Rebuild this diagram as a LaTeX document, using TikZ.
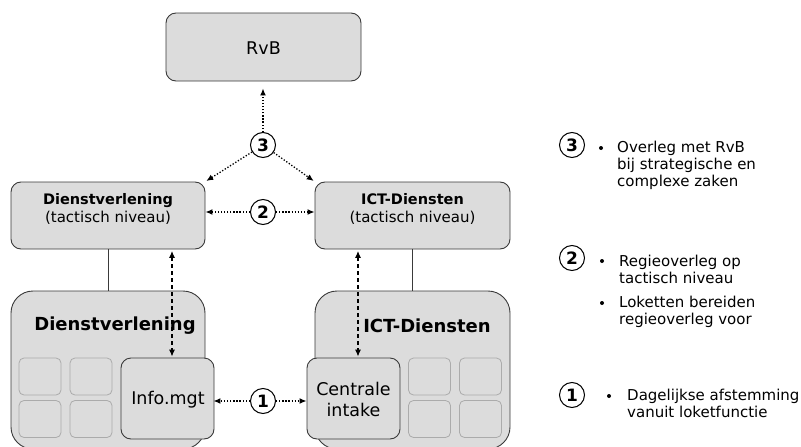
\documentclass[tikz,border=0pt]{standalone}
\usepackage{fontspec}
\setmainfont{DejaVu Sans}
\usetikzlibrary{arrows.meta}
\definecolor{boxfill}{HTML}{DCDCDC}
\definecolor{boxline}{HTML}{3A3A3A}
\definecolor{cellline}{HTML}{ABABAB}
\begin{document}
\begin{tikzpicture}[x=1pt,y=-1pt,
  >={Latex[length=7pt,width=6pt]},
  box/.style={draw=boxline, fill=boxfill, line width=0.9pt, rounded corners=10pt, inner sep=0pt},
  bigbox/.style={box, rounded corners=22pt},
  cell/.style={draw=cellline, fill=boxfill, line width=0.8pt, rounded corners=5pt, minimum width=42pt, minimum height=37pt, inner sep=0pt},
  num/.style={circle, draw=black, line width=1pt, fill=white, minimum size=25pt, inner sep=0pt, font=\fontsize{17}{17}\selectfont\bfseries},
  big/.style={inner sep=0pt, align=center, font=\fontsize{17.5}{21}\selectfont},
  tactxt/.style={inner sep=0pt, align=center, font=\fontsize{15}{18}\selectfont},
  legtxt/.style={inner sep=0pt, align=left, anchor=west, font=\fontsize{15}{17}\selectfont},
  bul/.style={circle, fill=black, inner sep=0pt, minimum size=4pt},
  dotline/.style={line width=1.3pt, dash pattern=on 1.3pt off 1.8pt},
  dashline/.style={line width=1.1pt, dash pattern=on 4pt off 3pt},
  link/.style={draw=boxline, line width=0.8pt}
]
\path[use as bounding box] (0,0) rectangle (801,447);
\clip (0,0) rectangle (801,447);

% top
\node[box, minimum width=195pt, minimum height=68pt] (rvb) at (263.5,47) {};
\node[big] (rvbt) at (263.5,48) {RvB};

% tactical boxes
\node[box, minimum width=194pt, minimum height=67pt] (tacL) at (108,215.5) {};
\node[box, minimum width=195pt, minimum height=67pt] (tacR) at (412.5,215.5) {};
\node[tactxt] (tacLt) at (108,209) {{\fontsize{14.5}{18}\selectfont\bfseries Dienstverlening}\\(tactisch niveau)};
\node[tactxt] (tacRt) at (412.5,209) {{\fontsize{14.5}{18}\selectfont\bfseries ICT-Diensten}\\(tactisch niveau)};

% big boxes
\node[bigbox, minimum width=194pt, minimum height=158pt] (bigL) at (108,370) {};
\node[bigbox, minimum width=195pt, minimum height=158pt] (bigR) at (412.5,370) {};
\node[inner sep=0pt, font=\fontsize{18}{20}\selectfont\bfseries] (bigLt) at (115,326) {Dienstverlening};
\node[inner sep=0pt, font=\fontsize{18}{20}\selectfont\bfseries] (bigRt) at (427,326) {ICT-Diensten};

\draw[link] (tacL.south) -- (bigL.north);
\draw[link] (tacR.south) -- (bigR.north);

% cells
\node[cell] (cL1) at (40,376.5) {};
\node[cell] (cL2) at (91,376.5) {};
\node[cell] (cL3) at (40,419) {};
\node[cell] (cL4) at (91,419) {};
\node[cell] (cR1) at (429.5,376.5) {};
\node[cell] (cR2) at (480.5,376.5) {};
\node[cell] (cR3) at (429.5,419) {};
\node[cell] (cR4) at (480.5,419) {};

% inner boxes
\node[box, minimum width=93pt, minimum height=81pt] (info) at (167.5,398.5) {};
\node[big] (infot) at (168,400) {Info.mgt};
\node[box, minimum width=93pt, minimum height=81pt] (cin) at (353.5,398.5) {};
\node[big] (cint) at (353.5,399.5) {Centrale\\intake};

% numbered circles
\node[num] (c3) at (263,145) {3};
\node[num] (c2) at (263,212) {2};
\node[num] (c1) at (263,401) {1};

% dotted arrows
\draw[dotline, ->, shorten >=7pt] (c3) -- (c3 |- rvb.south);
\draw[dotline, ->, shorten >=1pt] (c3) -- (tacL.north east);
\draw[dotline, ->, shorten >=1pt] (c3) -- (tacR.north west);
\draw[dotline, ->] (c2) -- (c2 -| tacL.east);
\draw[dotline, ->] (c2) -- (c2 -| tacR.west);
\draw[dotline, ->, shorten >=-1pt] (c1) -- (c1 -| info.east);
\draw[dotline, ->] (c1) -- (c1 -| cin.west);

% dashed arrows
\coordinate (dL) at (172,300);
\coordinate (dR) at (358,300);
\draw[dashline, <->, shorten <=1.5pt, shorten >=1pt] (dL |- tacL.south) -- (dL |- info.north);
\draw[dashline, <->, shorten <=1.5pt, shorten >=1pt] (dR |- tacR.south) -- (dR |- cin.north);

% legend
\node[num] (l3) at (572,145) {3};
\node[bul] (l3b) at (601,148) {};
\node[legtxt] (l3t) at (617,165) {Overleg met RvB\\bij strategische en\\complexe zaken};

\node[num] (l2) at (572,258) {2};
\node[bul] (l2b) at (602,261) {};
\node[legtxt] (l2t) at (619,269) {Regieoverleg op\\tactisch niveau};
\node[bul] (l2c) at (602,303) {};
\node[legtxt] (l2u) at (619,311.5) {Loketten bereiden\\regieoverleg voor};

\node[num] (l1) at (572,395) {1};
\node[bul] (l1b) at (609,396) {};
\node[legtxt] (l1t) at (627,403.5) {Dagelijkse afstemming\\vanuit loketfunctie};
\end{tikzpicture}
\end{document}
